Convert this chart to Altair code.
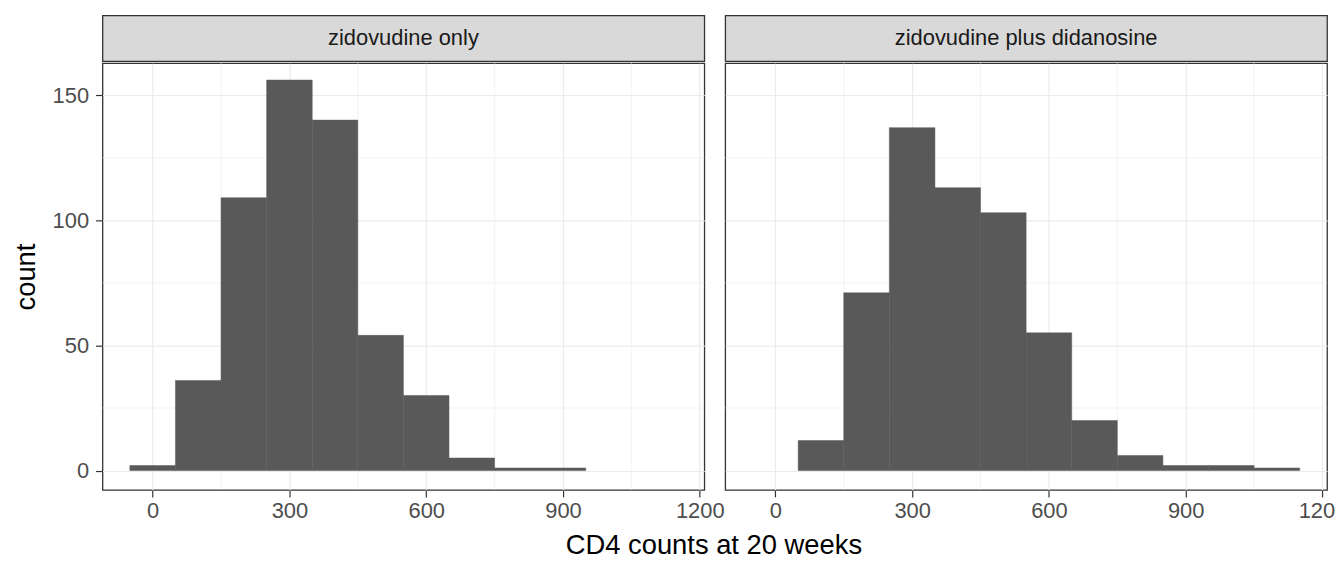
import altair as alt
import pandas as pd

groups = ["zidovudine only", "zidovudine plus didanosine"]
bin_centers_left = [0, 100, 200, 300, 400, 500, 600, 700, 800, 900]
counts_left = [2, 36, 109, 156, 140, 54, 30, 5, 1, 1]
bin_centers_right = [100, 200, 300, 400, 500, 600, 700, 800, 900, 1000, 1100]
counts_right = [12, 71, 137, 113, 103, 55, 20, 6, 2, 2, 1]
binwidth = 100
x_major = [0, 300, 600, 900, 1200]
x_minor = [150, 450, 750, 1050]
y_major = [0, 50, 100, 150]
y_minor = [25, 75, 125]
x_title = "CD4 counts at 20 weeks"
y_title = "count"

FONT = "Liberation Sans"
W, H, SH = 605, 429, 46
BAR = "#595959"
GRID = "#ebebeb"
LAB = 22

xscale = alt.Scale(domain=[-110, 1210], nice=False, zero=False)
yscale = alt.Scale(domain=[-7.75, 162.75], nice=False, zero=False)


def panel(name, centers, counts, first):
    df = pd.DataFrame({"c": centers, "n": counts})
    df["x0"] = df["c"] - binwidth / 2
    df["x1"] = df["c"] + binwidth / 2
    df["zero"] = 0
    xaxis = alt.Axis(values=x_major, format="d", title=None, grid=True, gridColor=GRID,
                     gridWidth=1.2, tickColor="#333333", tickSize=7, tickWidth=1.2, domain=False,
                     labelColor="#4d4d4d", labelFontSize=LAB, labelFont=FONT, labelPadding=4,
                     labelFlush=False)
    if first:
        yaxis = alt.Axis(values=y_major, title=y_title, grid=True, gridColor=GRID, gridWidth=1.2,
                         tickColor="#333333", tickSize=7, tickWidth=1.2, domain=False,
                         labelColor="#4d4d4d", labelFontSize=LAB, labelFont=FONT, labelPadding=7,
                         titleFont=FONT, titleFontSize=27.5, titleFontWeight="normal",
                         titleColor="black", titlePadding=12)
    else:
        yaxis = alt.Axis(values=y_major, title=None, grid=True, gridColor=GRID, gridWidth=1.2,
                         ticks=False, labels=False, domain=False)
    minx = alt.Chart(pd.DataFrame({"v": x_minor})).mark_rule(color=GRID, strokeWidth=0.6).encode(
        x=alt.X("v:Q", scale=xscale, axis=xaxis))
    miny = alt.Chart(pd.DataFrame({"v": y_minor})).mark_rule(color=GRID, strokeWidth=0.6).encode(
        y=alt.Y("v:Q", scale=yscale, axis=yaxis))
    bars = alt.Chart(df).mark_rect(color=BAR, stroke=BAR, strokeWidth=0.5).encode(
        x=alt.X("x0:Q", scale=xscale, axis=xaxis),
        x2="x1:Q",
        y=alt.Y("n:Q", scale=yscale, axis=yaxis),
        y2="zero:Q",
    )
    plot = alt.layer(minx, miny, bars).properties(
        width=W, height=H,
        view=alt.ViewBackground(stroke="#333333", strokeWidth=1.3, fill="white"))
    strip = alt.Chart(pd.DataFrame({"label": [name]})).mark_text(
        font=FONT, fontSize=LAB, color="#1a1a1a", baseline="middle", align="center").encode(
        text="label:N", x=alt.value(W / 2), y=alt.value(SH / 2)).properties(
        width=W, height=SH,
        view=alt.ViewBackground(stroke="#333333", strokeWidth=1.3, fill="#d9d9d9"))
    return alt.vconcat(strip, plot, spacing=0)


PAD_L = 3
chart = alt.hconcat(
    panel(groups[0], bin_centers_left, counts_left, True),
    panel(groups[1], bin_centers_right, counts_right, False),
    spacing=-4,
).properties(
    title=alt.TitleParams(x_title, orient="bottom", anchor="start", frame="bounds",
                          dx=568 - 8 - PAD_L, offset=10, fontSize=27.5, fontWeight="normal",
                          font=FONT, color="black"),
    padding={"left": PAD_L, "top": 5, "right": -12, "bottom": 3},
).configure(background="white")

chart.save("out.html", embed_options={"renderer": "svg", "actions": False})
